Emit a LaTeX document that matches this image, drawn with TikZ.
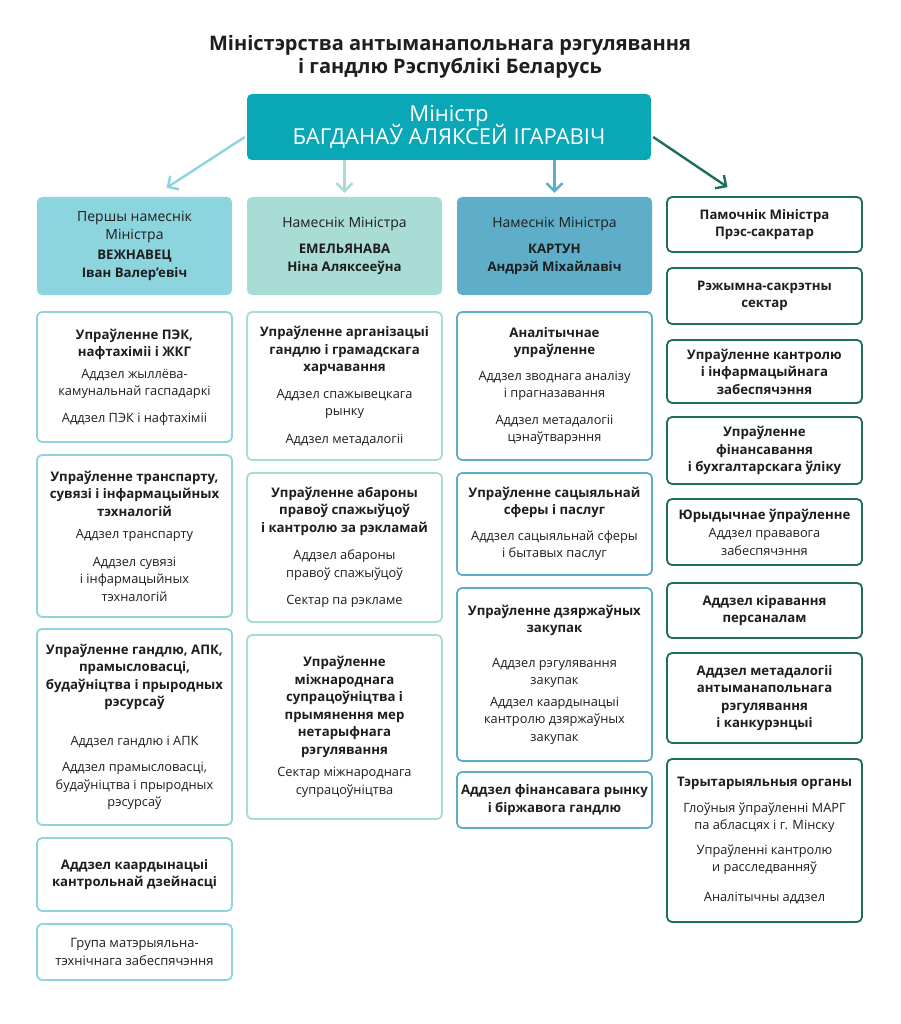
\documentclass[tikz,border=0pt]{standalone}
\usepackage{fontspec}
\setmainfont{Open Sans}
\usetikzlibrary{arrows.meta,calc}
\definecolor{colA}{HTML}{8CD5DF}
\definecolor{colB}{HTML}{A8DCD4}
\definecolor{colC}{HTML}{5EAEC9}
\definecolor{colD}{HTML}{1E6E5E}
\definecolor{minfill}{HTML}{0AA7B7}
\definecolor{txt}{HTML}{1E1E1E}
\newcommand{\hb}[1]{{\fontsize{13.2}{17.5}\selectfont\bfseries #1}}
\newcommand{\hbs}[1]{{\fontsize{13.2}{17.5}\selectfont\bfseries #1}}
\begin{document}
\begin{tikzpicture}[x=1pt,y=-1pt,
  box/.style={rectangle, rounded corners=5pt, minimum width=195, align=center, inner sep=2pt, line width=1.8pt, fill=white, text=txt, font=\fontsize{12.8}{17.5}\selectfont},
  boxA/.style={box, draw=colA},
  boxB/.style={box, draw=colB},
  boxC/.style={box, draw=colC},
  boxD/.style={box, draw=colD},
  dep/.style={rectangle, rounded corners=5pt, minimum width=195, minimum height=98, align=center, inner sep=2pt, text=txt, font=\fontsize{14}{18}\selectfont},
  arr/.style={line width=2.4pt, -{Straight Barb[length=8pt,width=16pt,line width=2.4pt]}}
]
\useasboundingbox[fill=white] (0,0) rectangle (900,1024);

% title
\node[text=txt, align=center, font=\fontsize{20}{23.5}\selectfont\bfseries] (title) at (450,57) {Міністэрства антыманапольнага рэгулявання\\і гандлю Рэспублікі Беларусь};

% minister
\node[rectangle, rounded corners=5pt, fill=minfill, minimum width=404, minimum height=66, text=white, align=center, font=\fontsize{22}{21}\selectfont] (min) at (449,127) {Міністр\\[-4pt]БАГДАНАЎ АЛЯКСЕЙ ІГАРАВІЧ};

% deputies
\node[dep, fill=colA] (d1) at (134.5,246) {Першы намеснік\\Міністра\\[2pt]\hbs{ВЕЖНАВЕЦ}\\\hbs{Іван Валер'евіч}};
\node[dep, fill=colB] (d2) at (344.5,246) {Намеснік Міністра\\[8pt]\hbs{ЕМЕЛЬЯНАВА}\\\hbs{Ніна Аляксееўна}};
\node[dep, fill=colC] (d3) at (554.5,246) {Намеснік Міністра\\[8pt]\hbs{КАРТУН}\\\hbs{Андрэй Міхайлавіч}};

% right column
\node[boxD, minimum height=55] (r1) at (764.5,224.5) {\hbs{Памочнік Міністра}\\\hbs{Прэс-сакратар}};
\node[boxD, minimum height=56] (r2) at (764.5,296) {\hbs{Рэжымна-сакрэтны}\\\hbs{сектар}};
\node[boxD, minimum height=63] (r3) at (764.5,371.5) {\hbs{Упраўленне кантролю}\\\hbs{і інфармацыйнага}\\\hbs{забеспячэння}};
\node[boxD, minimum height=67] (r4) at (764.5,450.5) {\hbs{Упраўленне}\\\hbs{фінансавання}\\\hbs{і бухгалтарскага ўліку}};
\node[boxD, minimum height=66] (r5) at (764.5,532) {\hbs{Юрыдычнае ўпраўленне}\\[1pt]Аддзел прававога\\забеспячэння};
\node[boxD, minimum height=55] (r6) at (764.5,610.5) {\hbs{Аддзел кіравання}\\\hbs{персаналам}};
\node[boxD, minimum height=90] (r7) at (764.5,698) {\hbs{Аддзел метадалогіі}\\\hbs{антыманапольнага}\\\hbs{рэгулявання}\\\hbs{і канкурэнцыі}};
\node[boxD, minimum height=163] (r8) at (764.5,840.5) {\hbs{Тэрытарыяльныя органы}\\[8pt]Глоўныя ўпраўленні МАРГ\\па абласцях і г. Мінску\\[7pt]Упраўленні кантролю\\и расследванняў\\[12pt]Аналітычны аддзел};

% column 1
\node[boxA, minimum height=130] (c1a) at (134.5,377) {\hb{Упраўленне ПЭК,}\\\hb{нафтахіміі і ЖКГ}\\[4pt]Аддзел жыллёва-\\камунальнай гаспадаркі\\[9pt]Аддзел ПЭК і нафтахіміі};
\node[boxA, minimum height=162] (c1b) at (134.5,536) {\hb{Упраўленне транспарту,}\\\hb{сувязі і інфармацыйных}\\\hb{тэхналогій}\\[5pt]Аддзел транспарту\\[10pt]Аддзел сувязі\\і інфармацыйных\\тэхналогій};
\node[boxA, minimum height=196] (c1c) at (134.5,727) {\hb{Упраўленне гандлю, АПК,}\\\hb{прамысловасці,}\\\hb{будаўніцтва і прыродных}\\\hb{рэсурсаў}\\[21pt]Аддзел гандлю і АПК\\[9pt]Аддзел прамысловасці,\\будаўніцтва і прыродных\\рэсурсаў};
\node[boxA, minimum height=73] (c1d) at (134.5,874.5) {\hb{Аддзел каардынацыі}\\\hb{кантрольнай дзейнасці}};
\node[boxA, minimum height=56, font=\fontsize{13}{18.5}\selectfont] (c1e) at (134.5,952) {Група матэрыяльна-\\тэхнічнага забеспячэння};

% column 2
\node[boxB, minimum height=148] (c2a) at (344.5,386) {\hb{Упраўленне арганізацыі}\\\hb{гандлю і грамадскага}\\\hb{харчавання}\\[9pt]Аддзел спажывецкага\\рынку\\[10pt]Аддзел метадалогіі};
\node[boxB, minimum height=149] (c2b) at (344.5,547.5) {\hb{Упраўленне абароны}\\\hb{правоў спажыўцоў}\\\hb{і кантролю за рэкламай}\\[10pt]Аддзел абароны\\правоў спажыўцоў\\[10pt]Сектар па рэкламе};
\node[boxB, minimum height=184] (c2c) at (344.5,727) {\hb{Упраўленне}\\\hb{міжнароднага}\\\hb{супрацоўніцтва і}\\\hb{прымянення мер}\\\hb{нетарыфнага}\\\hb{рэгулявання}\\[5pt]Сектар міжнароднага\\супрацоўніцтва};

% column 3
\node[boxC, minimum height=148] (c3a) at (554.5,386) {\hb{Аналітычнае}\\\hb{упраўленне}\\[8pt]Аддзел зводнага аналізу\\і прагназавання\\[9pt]Аддзел метадалогіі\\цэнаўтварэння};
\node[boxC, minimum height=102] (c3b) at (554.5,524) {\hb{Упраўленне сацыяльнай}\\\hb{сферы і паслуг}\\[8pt]Аддзел сацыяльнай сферы\\і бытавых паслуг};
\node[boxC, minimum height=173] (c3c) at (554.5,674.5) {\hb{Упраўленне дзяржаўных}\\\hb{закупак}\\[17pt]Аддзел рэгулявання\\закупак\\[4pt]Аддзел каардынацыі\\кантролю дзяржаўных\\закупак};
\node[boxC, minimum height=56] (c3d) at (554.5,800) {\hb{Аддзел фінансавага рынку}\\\hb{і біржавога гандлю}};

% arrows
\draw[arr, draw=colA] ($(min.west)+(-2,10)$) -- ($(d1.north)+(32,-9)$);
\draw[arr, draw=colB] (d2.north |- min.south) -- ($(d2.north)+(0,-4)$);
\draw[arr, draw=colC] (d3.north |- min.south) -- ($(d3.north)+(0,-4)$);
\draw[arr, draw=colD] ($(min.east)+(2,10)$) -- ($(r1.north)+(-37,-9)$);
\end{tikzpicture}
\end{document}
